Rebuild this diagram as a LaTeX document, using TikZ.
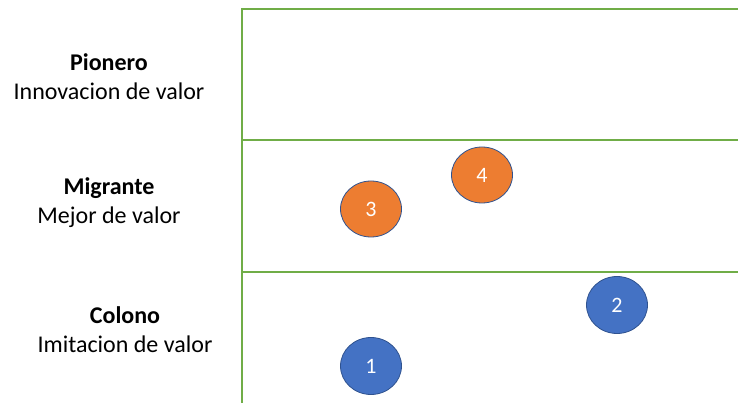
\documentclass[tikz,border=0pt]{standalone}
\usepackage{fontspec}
\setmainfont{Carlito}
\usetikzlibrary{shapes.geometric,positioning}
\definecolor{gridgreen}{HTML}{70AD47}
\definecolor{dotorange}{HTML}{ED7D31}
\definecolor{dotblue}{HTML}{4472C4}
\definecolor{dotedge}{HTML}{2F528F}

\begin{document}
\begin{tikzpicture}[x=1pt,y=-1pt, every node/.style={font=\fontsize{24}{29}\selectfont}]
    \useasboundingbox (0,0) rectangle (738,403);
    % rows
    \coordinate (top) at (242,9);
    \coordinate (bot) at (242,403);
    \coordinate (r0) at (738,9);
    \coordinate (l1) at (242,140);
    \coordinate (r1) at (738,140);
    \coordinate (l2) at (242,272);
    \coordinate (r2) at (738,272);
    \draw[gridgreen, line width=1.2pt] (bot) -- (top) -- (r0);
    \draw[gridgreen, line width=1.2pt] (l1) -- (r1);
    \draw[gridgreen, line width=1.2pt] (l2) -- (r2);
    % labels
    \node[align=center] (pio) at (109,77) {\textbf{Pionero}\\Innovacion de valor};
    \node[align=center] (mig) at (109,203) {\textbf{Migrante}\\Mejor de valor};
    \node[align=center] (col) at (125,330) {\textbf{Colono}\\Imitacion de valor};
    % dots
    \node[draw=dotedge, ellipse, fill=dotblue, text=white, minimum width=61pt, minimum height=57pt, line width=0.8pt, font=\fontsize{22}{26}\selectfont] (d1) at (371,366) {1};
    \node[draw=dotedge, ellipse, fill=dotblue, text=white, minimum width=61pt, minimum height=57pt, line width=0.8pt, font=\fontsize{22}{26}\selectfont] (d2) at (617,305) {2};
    \node[draw=dotedge, ellipse, fill=dotorange, text=white, minimum width=61pt, minimum height=56pt, line width=0.8pt, font=\fontsize{22}{26}\selectfont] (d3) at (371,209) {3};
    \node[draw=dotedge, ellipse, fill=dotorange, text=white, minimum width=61pt, minimum height=56pt, line width=0.8pt, font=\fontsize{22}{26}\selectfont] (d4) at (482,175) {4};
\end{tikzpicture}
\end{document}
